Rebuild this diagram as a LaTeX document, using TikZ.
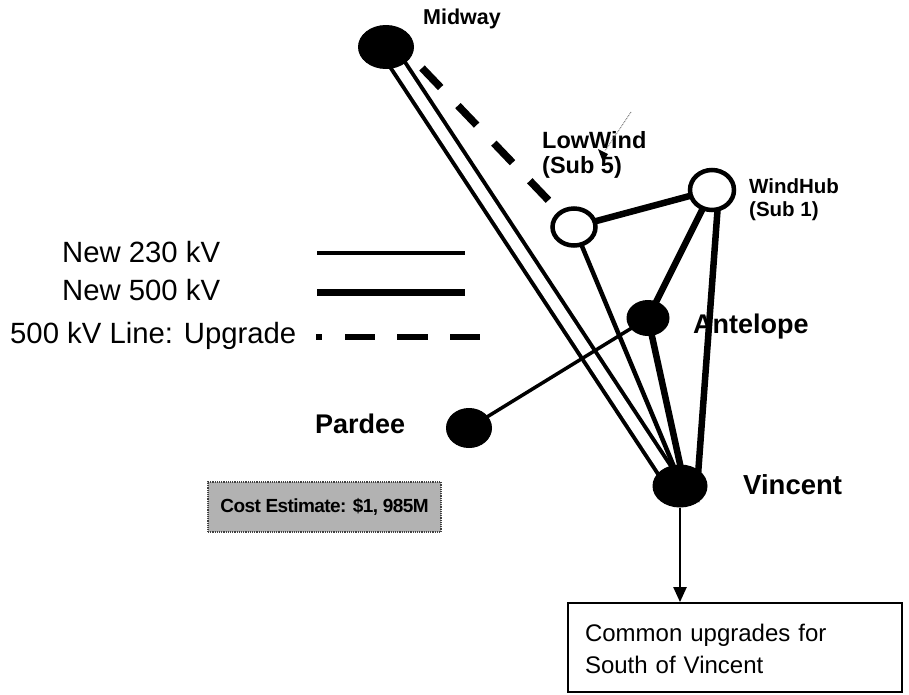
\documentclass[tikz,border=0pt]{standalone}
\usepackage{fontspec}
\setmainfont{Liberation Sans}
\usetikzlibrary{shapes.geometric,arrows.meta}
\pgfdeclarelayer{bg}
\pgfsetlayers{bg,main}
\begin{document}
\begin{tikzpicture}[x=1pt,y=-1pt,
  bus/.style={ellipse, inner sep=0pt, fill=black, draw=black, line width=1pt},
  hub/.style={ellipse, inner sep=0pt, fill=white, draw=black, line width=4.5pt},
  lbl/.style={inner sep=0pt, anchor=base west, font=\fontsize{#1}{#1}\selectfont\bfseries},
  leg/.style={inner sep=0pt, anchor=base west, font=\fontsize{29.3}{32}\selectfont},
  kvlow/.style={line width=4.5pt},
  kvhigh/.style={line width=6.5pt},
  upgrade/.style={line width=7.5pt, dash pattern=on 27pt off 25pt},
  twin/.style={line width=4pt, double=white, double distance=11pt},
  costbox/.style={rectangle, minimum width=233pt, minimum height=50pt, inner sep=0pt,
    fill=black!30, draw=black!75, densely dotted, line width=1.2pt,
    font=\fontsize{19}{22}\selectfont\bfseries\addfontfeature{LetterSpace=-3}},
  notebox/.style={rectangle, draw=black, line width=1.8pt, minimum width=334pt,
    minimum height=89pt, inner xsep=17pt, text width=300pt, align=left,
    font=\fontsize{24}{32}\selectfont}
]
\useasboundingbox (0,0) rectangle (909,694);

% substations
\node[bus, minimum width=55pt, minimum height=43pt] (Midway) at (386,47) {};
\node[hub, minimum width=43pt, minimum height=37pt] (LowWind) at (574,227) {};
\node[hub, minimum width=44pt, minimum height=40pt] (WindHub) at (712,190) {};
\node[bus, minimum width=42pt, minimum height=35pt] (Antelope) at (648,318) {};
\node[bus, minimum width=45pt, minimum height=39pt] (Pardee) at (469,428) {};
\node[bus, minimum width=54pt, minimum height=42pt] (Vincent) at (680,486) {};

% labels
\node[lbl=21.5] (tMidway) at (423,24) {Midway};
\node[lbl=23.5] (tLowWind) at (542,148) {LowWind};
\node[lbl=23.5] (tLowWindSub) at (542,173) {(Sub 5)};
\node[lbl=20.5] (tWindHub) at (749,193) {WindHub};
\node[lbl=20.5] (tWindHubSub) at (749,216) {(Sub 1)};
\node[lbl=27] (tAntelope) at (693,333) {Antelope};
\node[lbl=27] (tPardee) at (315,433) {Pardee};
\node[lbl=27.5] (tVincent) at (743,494) {Vincent};

% lines
\coordinate (dstart) at (422,68);
\begin{pgfonlayer}{bg}
  \draw[twin] (Midway.center) -- ([xshift=-5pt]Vincent.center);
  \draw[upgrade] (dstart) -- (LowWind);
  \draw[kvhigh] (LowWind.center) -- (WindHub.center);
  \draw[kvlow] (LowWind.center) -- ([xshift=2pt]Vincent.center);
  \draw[kvhigh] (WindHub.center) -- (Antelope.center);
  \draw[kvhigh] ([xshift=7pt]WindHub.center) -- ([shift={(16pt,-16pt)}]Vincent.center);
  \draw[kvhigh] (Antelope.center) -- ([shift={(7pt,-10pt)}]Vincent.center);
  \draw[line width=3.5pt] (Pardee.center) -- (Antelope.center);
\end{pgfonlayer}

% small pointer near LowWind
\coordinate (ptrA) at (631,112);
\coordinate (ptrB) at (605,151);
\draw[line width=0.8pt, densely dotted, black!70] (ptrA) -- (ptrB);
\fill (598,149) -- (608,154) -- (603,162) -- cycle;

% legend
\node[leg] (l230) at (62,262) {New 230 kV};
\node[leg] (l500) at (62,300) {New 500 kV};
\node[leg] (lupg) at (10,343) {500 kV Line: Upgrade};
\coordinate (a1) at (317,253); \coordinate (b1) at (465,253);
\coordinate (a2) at (317,292); \coordinate (b2) at (465,292);
\coordinate (a3) at (316,337); \coordinate (b3) at (480,337);
\draw[line width=4pt] (a1) -- (b1);
\draw[line width=7pt] (a2) -- (b2);
\draw[line width=6.5pt, dash pattern=on 6pt off 23pt on 30pt off 22pt on 31pt off 22pt on 40pt off 40pt] (a3) -- (b3);

% cost estimate
\node[costbox] (cost) at (324.5,507) {Cost Estimate: \$1, 985M};

% common upgrades
\node[notebox] (south) at (735,647.5) {\rule{0pt}{20pt}Common upgrades for\\South of Vincent};
\draw[line width=2.2pt, -{Triangle[length=15pt, width=13pt]}] (Vincent) -- (Vincent |- south.north);
\end{tikzpicture}
\end{document}
